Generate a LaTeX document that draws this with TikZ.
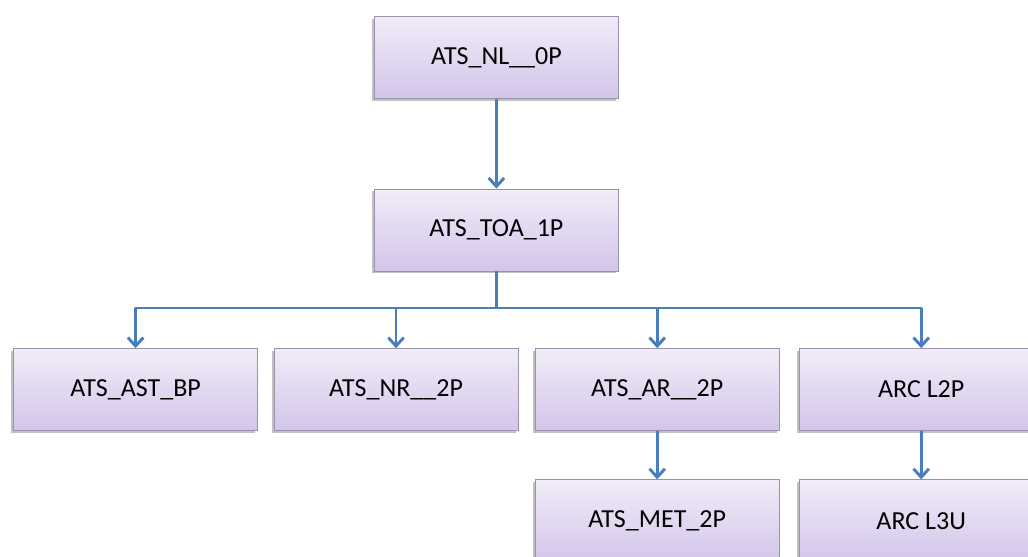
\documentclass[tikz,border=0pt]{standalone}
\usepackage{fontspec}
\setmainfont{Carlito}
\usetikzlibrary{arrows.meta,shadows}

\definecolor{boxtop}{HTML}{F1ECF8}
\definecolor{boxbot}{HTML}{D3C5E9}
\definecolor{boxline}{HTML}{9A92A8}
\definecolor{arrblue}{HTML}{4A7EBB}

\begin{document}
\begin{tikzpicture}[
    box/.style={draw=boxline, line width=0.6pt, top color=boxtop, bottom color=boxbot,
      minimum width=6.1cm, minimum height=2.05cm, inner sep=0pt,
      font=\fontsize{18.5}{22}\selectfont,
      drop shadow={shadow xshift=-1.6pt, shadow yshift=-1.6pt, opacity=0.35, fill=black!70}},
    link/.style={arrblue, line width=2.1pt},
    arr/.style={link, -{Straight Barb[length=6pt,width=11pt]}}]
	\useasboundingbox (0, 0) rectangle (25.7, 13.9);
	\clip (0, 0) rectangle (25.7, 13.9);

	\node[box] (nl) at (12.41, 12.46) {ATS\_NL\_\_0P};
	\node[box] (toa) at (12.41, 8.15) {ATS\_TOA\_1P};

	\node[box] (ast) at (3.39, 4.16) {ATS\_AST\_BP};
	\node[box] (nr) at (9.90, 4.16) {ATS\_NR\_\_2P};
	\node[box] (ar) at (16.43, 4.16) {ATS\_AR\_\_2P};
	\node[box] (arc) at (23.03, 4.16) {ARC L2P};

	\node[box] (met) at (16.43, 0.88) {ATS\_MET\_2P};
	\node[box] (arcu) at (23.03, 0.88) {ARC L3U};

	\coordinate (bus) at (12.41, 6.2);

	\draw[arr] (nl) -- (toa);
	\draw[link] (toa) -- (bus);
	\draw[link, line cap=round] (bus -| ast) -- (bus -| arc);
	\draw[arr] (bus -| ast) -- (ast);
	\draw[arr] (bus -| nr) -- (nr);
	\draw[arr] (bus -| ar) -- (ar);
	\draw[arr] (bus -| arc) -- (arc);
	\draw[arr] (ar) -- (met);
	\draw[arr] (arc) -- (arcu);
\end{tikzpicture}
\end{document}
